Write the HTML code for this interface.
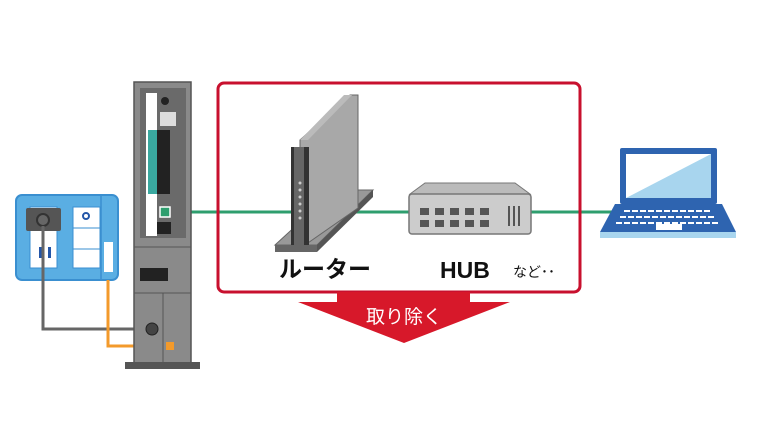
<!DOCTYPE html>
<html><head><meta charset="utf-8"><style>
html,body{margin:0;padding:0;background:#fff;}
</style></head><body>
<svg width="768" height="442" viewBox="0 0 768 442" xmlns="http://www.w3.org/2000/svg">
<!-- green line -->
<line x1="165" y1="212" x2="622" y2="212" stroke="#2e9e6e" stroke-width="3"/>
<!-- red box -->
<rect x="218" y="83" width="362" height="209" rx="6" fill="none" stroke="#c8102e" stroke-width="3"/>
<!-- arrow -->
<polygon points="337,292 470,292 470,302 510,302 404,343 298,302 337,302" fill="#d7182a"/>
<text x="404" y="323" fill="#fff" font-family="'Liberation Sans','Noto Sans CJK JP',sans-serif" font-size="19" text-anchor="middle">取り除く</text>

<!-- wall panel -->
<rect x="16" y="195" width="102" height="85" rx="6" fill="#5aaee3" stroke="#3a8fd0" stroke-width="2"/>
<line x1="101" y1="196" x2="101" y2="279" stroke="#3a8fd0" stroke-width="1.5"/>
<rect x="30" y="207" width="27" height="61" fill="#fff" stroke="#3a8fd0"/>
<rect x="39" y="247" width="3" height="11" fill="#2456a8"/><rect x="48" y="247" width="3" height="11" fill="#2456a8"/>
<rect x="26" y="208" width="35" height="23" rx="2" fill="#555"/>
<circle cx="43" cy="220" r="6" fill="#666" stroke="#333" stroke-width="2"/>
<rect x="73" y="207" width="27" height="61" fill="#fff" stroke="#3a8fd0"/>
<line x1="73" y1="228" x2="100" y2="228" stroke="#3a8fd0"/><line x1="73" y1="249" x2="100" y2="249" stroke="#3a8fd0"/>
<circle cx="86" cy="216" r="3" fill="none" stroke="#2456a8" stroke-width="2"/>
<rect x="104" y="242" width="9" height="30" fill="#fff"/>
<!-- cables -->
<polyline points="43,226 43,329 152,329" fill="none" stroke="#666" stroke-width="3"/>
<polyline points="108,280 108,346 170,346" fill="none" stroke="#f39a2b" stroke-width="3"/>

<!-- modem tower -->
<rect x="134" y="82" width="57" height="282" fill="#8a8a8a" stroke="#555" stroke-width="1.5"/>
<rect x="125" y="362" width="75" height="7" fill="#555"/>
<rect x="140" y="88" width="46" height="150" fill="#6a6a6a"/>
<line x1="134" y1="247" x2="191" y2="247" stroke="#555"/>
<line x1="134" y1="293" x2="191" y2="293" stroke="#555"/>
<line x1="163" y1="293" x2="163" y2="364" stroke="#555"/>
<rect x="140" y="268" width="28" height="13" fill="#222"/>
<rect x="146" y="93" width="11" height="143" fill="#fff"/>
<rect x="148" y="130" width="9" height="64" fill="#3aa9a0"/>
<rect x="157" y="130" width="13" height="64" fill="#222"/>
<rect x="160" y="112" width="16" height="14" fill="#ddd"/>
<circle cx="165" cy="101" r="4" fill="#222"/>
<rect x="157" y="222" width="14" height="12" fill="#222"/>
<rect x="160" y="207" width="10" height="10" fill="#2e9e6e" stroke="#fff" stroke-width="1.5"/>
<circle cx="152" cy="329" r="6" fill="#444" stroke="#222"/>
<rect x="166" y="342" width="8" height="8" fill="#f39a2b"/>

<!-- router base plate -->
<polygon points="275,245 317,245 373,190 335,190" fill="#999" stroke="#666"/>
<polygon points="275,245 317,245 317,252 275,252" fill="#666"/>
<polygon points="317,245 373,190 373,197 317,252" fill="#555"/>
<!-- router body -->
<polygon points="300,140 350,95 358,95 358,208 305,245 300,245" fill="#a8a8a8" stroke="#666"/>
<polygon points="300,140 344,95 352,95 308,140" fill="#bbb"/>
<rect x="291" y="147" width="18" height="98" fill="#333"/>
<rect x="294" y="147" width="10" height="98" fill="#666"/>
<g fill="#ccc"><circle cx="300" cy="183" r="1.5"/><circle cx="300" cy="190" r="1.5"/><circle cx="300" cy="197" r="1.5"/><circle cx="300" cy="204" r="1.5"/><circle cx="300" cy="211" r="1.5"/><circle cx="300" cy="218" r="1.5"/></g>

<!-- hub -->
<polygon points="410,194 425,183 515,183 530,194" fill="#bbb" stroke="#777"/>
<rect x="409" y="194" width="122" height="40" rx="3" fill="#ccc" stroke="#777" stroke-width="1.5"/>
<g fill="#555">
<rect x="420" y="208" width="9" height="7"/><rect x="435" y="208" width="9" height="7"/><rect x="450" y="208" width="9" height="7"/><rect x="465" y="208" width="9" height="7"/><rect x="480" y="208" width="9" height="7"/>
<rect x="420" y="220" width="9" height="7"/><rect x="435" y="220" width="9" height="7"/><rect x="450" y="220" width="9" height="7"/><rect x="465" y="220" width="9" height="7"/><rect x="480" y="220" width="9" height="7"/>
<rect x="508" y="206" width="2" height="20"/><rect x="513" y="206" width="2" height="20"/><rect x="518" y="206" width="2" height="20"/>
</g>

<!-- labels -->
<text x="325" y="277" font-family="'Liberation Sans','Noto Sans CJK JP',sans-serif" font-size="23" font-weight="bold" text-anchor="middle" fill="#111">ルーター</text>
<text x="440" y="278" font-family="'Liberation Sans',sans-serif" font-size="23" font-weight="bold" fill="#111">HUB</text>
<text x="513" y="277" font-family="'Liberation Sans','Noto Sans CJK JP',sans-serif" font-size="14" fill="#111">など･･</text>

<!-- laptop -->
<rect x="620" y="148" width="97" height="56" rx="2" fill="#2e64b0"/>
<rect x="626" y="154" width="85" height="44" fill="#fff"/>
<polygon points="626,198 711,154 711,198" fill="#a8d5ee"/>
<polygon points="615,204 722,204 736,232 600,232" fill="#2e64b0"/>
<rect x="600" y="232" width="136" height="6" fill="#a8d5ee"/>
<g stroke="#fff" stroke-width="2" stroke-dasharray="6,2"><line x1="624" y1="211" x2="712" y2="211"/><line x1="620" y1="217" x2="716" y2="217"/><line x1="616" y1="223" x2="720" y2="223"/></g>
<rect x="656" y="224" width="26" height="6" fill="#fff"/>
</svg>
</body></html>
